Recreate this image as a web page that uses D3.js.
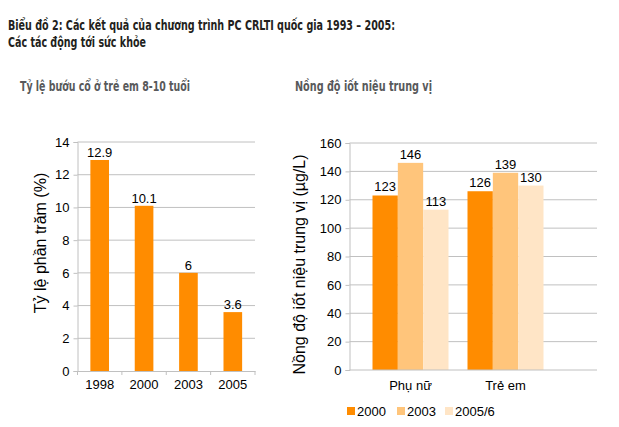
<!DOCTYPE html>
<html>
<head>
<meta charset="utf-8">
<script src="https://cdn.jsdelivr.net/npm/d3@7"></script>
<style>
  body { margin: 0; background: #fff; }
  svg { display: block; }
  text { font-family: "Liberation Sans", Arial, sans-serif; fill: #000; }
</style>
</head>
<body>
<svg id="chart" width="619" height="427"></svg>
<script>
/* ── Data ──────────────────────────────────────────────────── */
const goitreYears = ['1998', '2000', '2003', '2005'];
const goitreValues = [12.9, 10.1, 6, 3.6];
const goitreTicks = [0, 2, 4, 6, 8, 10, 12, 14];

const iodineGroups = ['Phụ nữ', 'Trẻ em'];
const iodineSeries = ['2000', '2003', '2005/6'];
const iodineValues = [
  [123, 146, 113],   // Phụ nữ
  [126, 139, 130],   // Trẻ em
];
const iodineTicks = [0, 20, 40, 60, 80, 100, 120, 140, 160];
const seriesColors = ['#ff8c00', '#ffc57b', '#ffe5c6'];

const GRID = '#c0c0c0';

const svg = d3.select('#chart');

/* ── Titles ────────────────────────────────────────────────── */
const titleFont = '"DejaVu Sans Condensed", "Open Sans", sans-serif';
svg.append('text')
  .attr('x', 8).attr('y', 30)
  .attr('textLength', 387).attr('lengthAdjust', 'spacingAndGlyphs')
  .style('font-family', titleFont).style('font-weight', 'bold').style('font-size', '14.5px')
  .style('fill', '#231f20')
  .text('Biểu đồ 2: Các kết quả của chương trình PC CRLTI quốc gia 1993 – 2005:');
svg.append('text')
  .attr('x', 8).attr('y', 47)
  .attr('textLength', 138).attr('lengthAdjust', 'spacingAndGlyphs')
  .style('font-family', titleFont).style('font-weight', 'bold').style('font-size', '14.5px')
  .style('fill', '#231f20')
  .text('Các tác động tới sức khỏe');

svg.append('text')
  .attr('x', 20).attr('y', 91)
  .attr('textLength', 170).attr('lengthAdjust', 'spacingAndGlyphs')
  .style('font-family', titleFont).style('font-weight', 'bold').style('font-size', '14px')
  .style('fill', '#58595b')
  .text('Tỷ lệ bướu cổ ở trẻ em 8-10 tuổi');
svg.append('text')
  .attr('x', 295).attr('y', 91)
  .attr('textLength', 137).attr('lengthAdjust', 'spacingAndGlyphs')
  .style('font-family', titleFont).style('font-weight', 'bold').style('font-size', '14px')
  .style('fill', '#58595b')
  .text('Nồng độ iốt niệu trung vị');

/* ── Shared helpers ────────────────────────────────────────── */
function yAxisWithGrid(g, y, ticks, left, right) {
  g.selectAll('line.grid').data(ticks.filter(t => t !== 0)).enter().append('line')
    .attr('class', 'grid')
    .attr('x1', left).attr('x2', right)
    .attr('y1', d => y(d)).attr('y2', d => y(d))
    .attr('stroke', GRID).attr('stroke-width', 1);

  const ax = g.append('g')
    .attr('transform', `translate(${left},0)`)
    .call(d3.axisLeft(y).tickValues(ticks).tickSize(4).tickPadding(4).tickFormat(d3.format('d')));
  ax.select('.domain').attr('stroke', GRID);
  ax.selectAll('.tick line').attr('stroke', GRID);
  ax.selectAll('.tick text')
    .style('font-family', '"Liberation Sans", Arial, sans-serif')
    .style('font-size', '13px').attr('fill', '#000');
}

/* ── Left chart: goitre rate ───────────────────────────────── */
const L = { left: 77.5, right: 255, top: 142, bottom: 371 };
const gL = svg.append('g');

const xL = d3.scaleBand().domain(goitreYears).range([L.left, L.right]).padding(0);
const yL = d3.scaleLinear().domain([0, 14]).range([L.bottom, L.top]);

yAxisWithGrid(gL, yL, goitreTicks, L.left, L.right);

const barW = xL.bandwidth() * 0.42;
gL.selectAll('rect.bar').data(goitreValues).enter().append('rect')
  .attr('class', 'bar')
  .attr('x', (d, i) => xL(goitreYears[i]) + (xL.bandwidth() - barW) / 2)
  .attr('y', d => yL(d))
  .attr('width', barW)
  .attr('height', d => yL(0) - yL(d))
  .attr('fill', seriesColors[0]);

gL.selectAll('text.val').data(goitreValues).enter().append('text')
  .attr('class', 'val')
  .attr('x', (d, i) => xL(goitreYears[i]) + xL.bandwidth() / 2)
  .attr('y', d => yL(d) - 3)
  .attr('text-anchor', 'middle')
  .style('font-size', '13px')
  .text(d => d);

const axL = gL.append('g')
  .attr('transform', `translate(0,${L.bottom})`)
  .call(d3.axisBottom(xL).tickSize(0).tickPadding(9));
axL.select('.domain').attr('stroke', GRID);
axL.selectAll('.tick text').style('font-family', '"Liberation Sans", Arial, sans-serif')
  .style('font-size', '13px').attr('fill', '#000');
// category separators below the axis
gL.selectAll('line.sep').data(d3.range(goitreYears.length + 1)).enter().append('line')
  .attr('class', 'sep')
  .attr('x1', i => L.left + i * xL.step()).attr('x2', i => L.left + i * xL.step())
  .attr('y1', L.bottom).attr('y2', L.bottom + 4)
  .attr('stroke', GRID);

svg.append('text')
  .attr('transform', 'translate(46,243) rotate(-90)')
  .attr('text-anchor', 'middle')
  .style('font-size', '16px')
  .text('Tỷ lệ phần trăm (%)');

/* ── Right chart: median urinary iodine ────────────────────── */
const R = { left: 349.5, right: 597, top: 143, bottom: 370 };
const gR = svg.append('g');

const x0 = d3.scaleBand().domain(iodineGroups).range([363, 553]).padding(0);
const groupW = 76;
const x1 = d3.scaleBand().domain(iodineSeries)
  .range([(x0.bandwidth() - groupW) / 2, (x0.bandwidth() + groupW) / 2]).padding(0);
const yR = d3.scaleLinear().domain([0, 160]).range([R.bottom, R.top]);

yAxisWithGrid(gR, yR, iodineTicks, R.left, R.right);

const groups = gR.selectAll('g.grp').data(iodineValues).enter().append('g')
  .attr('class', 'grp')
  .attr('transform', (d, i) => `translate(${x0(iodineGroups[i])},0)`);

groups.selectAll('rect').data(d => d).enter().append('rect')
  .attr('x', (d, j) => x1(iodineSeries[j]))
  .attr('y', d => yR(d))
  .attr('width', x1.bandwidth())
  .attr('height', d => yR(0) - yR(d))
  .attr('fill', (d, j) => seriesColors[j]);

groups.selectAll('text').data(d => d).enter().append('text')
  .attr('x', (d, j) => x1(iodineSeries[j]) + x1.bandwidth() / 2)
  .attr('y', d => yR(d) - 4)
  .attr('text-anchor', 'middle')
  .style('font-size', '13px')
  .text(d => d);

// baseline across the whole plot
gR.append('line')
  .attr('x1', R.left).attr('x2', R.right)
  .attr('y1', R.bottom).attr('y2', R.bottom)
  .attr('stroke', GRID);

const axR = gR.append('g')
  .attr('transform', `translate(0,${R.bottom})`)
  .call(d3.axisBottom(x0).tickSize(0).tickPadding(11));
axR.select('.domain').remove();
axR.selectAll('.tick text').style('font-family', '"Liberation Sans", Arial, sans-serif')
  .style('font-size', '13px').attr('fill', '#000');

svg.append('text')
  .attr('transform', `translate(305,${(R.top + R.bottom) / 2 + 8}) rotate(-90)`)
  .attr('text-anchor', 'middle')
  .style('font-size', '16px')
  .text('Nồng độ iốt niệu trung vị (µg/L)');

/* ── Legend ────────────────────────────────────────────────── */
const legendX = [347, 397, 445];
const legend = svg.append('g').selectAll('g').data(iodineSeries).enter().append('g')
  .attr('transform', (d, i) => `translate(${legendX[i]},407)`);
legend.append('rect')
  .attr('width', 8).attr('height', 8)
  .attr('fill', (d, i) => seriesColors[i]);
legend.append('text')
  .attr('x', 10).attr('y', 9)
  .style('font-size', '13px')
  .text(d => d);
</script>
</body>
</html>
